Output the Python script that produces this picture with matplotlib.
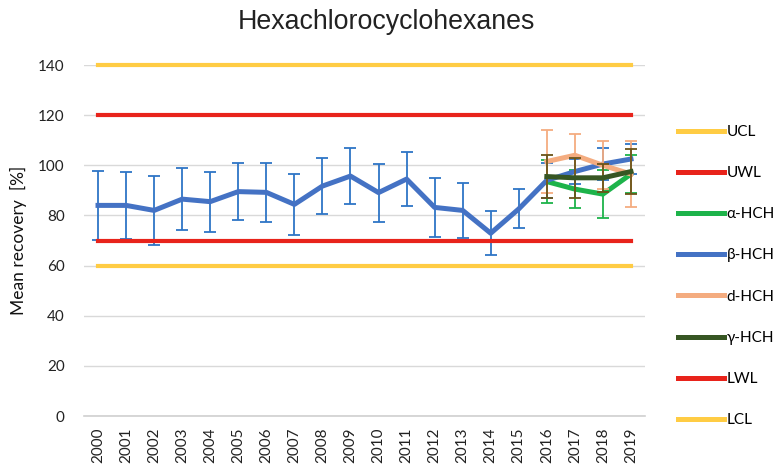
import matplotlib
matplotlib.use('Agg')
import matplotlib.pyplot as plt
from matplotlib.lines import Line2D
import numpy as np

plt.rcParams['font.family'] = ['Lato', 'DejaVu Sans']

years = [str(y) for y in range(2000, 2020)]

# control / warning limits
ucl = [140] * 20
uwl = [120] * 20
lwl = [70] * 20
lcl = [60] * 20

# beta-HCH, whole period
beta = [84, 84, 82, 86.5, 85.5, 89.5, 89.2, 84.4, 91.7, 95.7,
        89.1, 94.5, 83.2, 82, 72.9, 82.6, 94, 97.5, 100.5, 102.5]
beta_err = [13.8, 13.3, 13.7, 12.4, 12, 11.4, 11.7, 12.2, 11.1, 11,
            11.6, 10.9, 11.8, 11, 8.8, 7.8, 7, 5, 6.5, 6]

# other isomers, 2016-2019 only
alpha = [93.5, 90.5, 88.5, 96.5]
alpha_err = [8.5, 7.5, 9.5, 7.5]
delta = [101.5, 104, 100, 96.5]
delta_err = [12.5, 8.5, 9.5, 13]
gamma = [95.5, 95, 95, 97.5]
gamma_err = [8.5, 8, 5.5, 9]

x = np.arange(len(years))
x_late = x[-4:]

fig = plt.figure(figsize=(7.8, 4.69), dpi=100)
ax = fig.add_axes([84 / 780, 1 - 416 / 469, 561 / 780, 351 / 469])

c_ucl = '#FFCC44'
c_red = '#E8231B'
c_alpha = '#1DB34A'
c_beta = '#4472C4'
c_delta = '#F4AC80'
c_gamma = '#375623'

ax.plot(x, ucl, color=c_ucl, lw=3, clip_on=False, zorder=3)
ax.plot(x, uwl, color=c_red, lw=3, zorder=3)

ax.errorbar(x_late, alpha, yerr=alpha_err, color=c_alpha, lw=3.6,
            ecolor=c_alpha, elinewidth=1.3, capsize=4, capthick=1.3, zorder=4)
ax.errorbar(x, beta, yerr=beta_err, color=c_beta, lw=3.6,
            ecolor='#2E75C6', elinewidth=1.3, capsize=4, capthick=1.3, zorder=5)
ax.errorbar(x_late, delta, yerr=delta_err, color=c_delta, lw=3.6,
            ecolor=c_delta, elinewidth=1.3, capsize=4, capthick=1.3, zorder=6)
ax.errorbar(x_late, gamma, yerr=gamma_err, color=c_gamma, lw=3.6,
            ecolor='#6B5418', elinewidth=1.3, capsize=4, capthick=1.3, zorder=7)

ax.plot(x, lwl, color=c_red, lw=3, zorder=8)
ax.plot(x, lcl, color=c_ucl, lw=3, zorder=8)

ax.set_xlim(-0.5, 19.5)
ax.set_ylim(0, 140)
ax.set_yticks(range(0, 141, 20))
ax.set_xticks(x)
ax.set_xticklabels(years, rotation=90, fontsize=11, color='#222222')
ax.tick_params(axis='y', labelsize=11, colors='#222222', length=0, pad=14)
ax.tick_params(axis='x', length=0, pad=8)
ax.grid(axis='y', color='#D9D9D9', lw=1)
ax.set_axisbelow(True)
for s in ['top', 'right', 'left']:
    ax.spines[s].set_visible(False)
ax.spines['bottom'].set_color('#D0D0D0')
ax.spines['bottom'].set_linewidth(1.2)

ax.set_ylabel('Mean recovery  [%]', fontsize=12.5, color='#111111', labelpad=8)

fig.text(0.495, 1 - 29 / 469, 'Hexachlorocyclohexanes', ha='center', va='baseline',
         fontsize=19.3, family=['Liberation Sans', 'DejaVu Sans'], color='#222222')

leg_labels = ['UCL', 'UWL', 'α-HCH', 'β-HCH', 'd-HCH', 'γ-HCH', 'LWL', 'LCL']
leg_colors = [c_ucl, c_red, c_alpha, c_beta, c_delta, c_gamma, c_red, c_ucl]
proxy = [Line2D([], [], color=c, lw=3.6) for c in leg_colors]
fig.legend(proxy, leg_labels, loc='upper left', bbox_to_anchor=(0.852, 0.763),
           frameon=False, fontsize=11, handlelength=3.0, handletextpad=0.15,
           labelspacing=1.78)

fig.savefig('out.png', dpi=100)
